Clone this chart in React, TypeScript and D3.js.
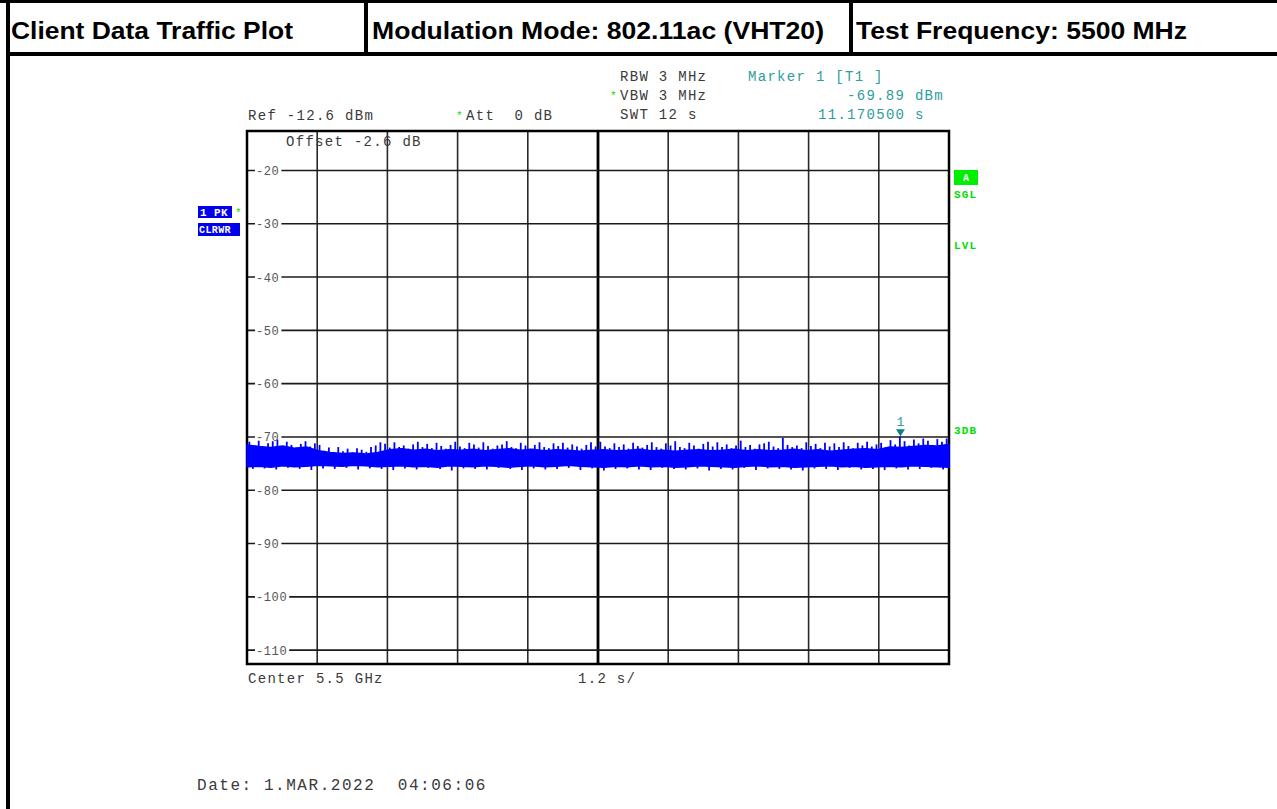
import React from "react";
import * as d3 from "d3";

// header cells
const headerCells = [
  "Client Data Traffic Plot",
  "Modulation Mode: 802.11ac (VHT20)",
  "Test Frequency: 5500 MHz",
];

// level axis (dBm) and sweep (s)
const refLevel = -12.6;
const sweepTime = 12;
const levelTicks = [-20, -30, -40, -50, -60, -70, -80, -90, -100, -110];

// band of the trace, one value every 0.2 s
const bandTop = [
  -71.5, -71.8, -72.0, -71.7, -72.1, -71.9, -72.6, -72.9, -73.1, -73.0,
  -73.2, -72.9, -72.4, -72.2, -72.5, -72.3, -72.6, -72.4, -72.5, -72.3,
  -72.6, -72.4, -72.2, -72.5, -72.3, -72.6, -72.4, -72.5, -72.7, -72.5,
  -72.4, -72.6, -72.5, -72.3, -72.6, -72.5, -72.7, -72.5, -72.4, -72.6,
  -72.5, -72.3, -72.6, -72.4, -72.6, -72.5, -72.3, -72.6, -72.4, -72.7,
  -72.5, -72.3, -72.2, -72.4, -71.9, -72.0, -71.8, -71.6, -71.7, -71.4,
];
const bandBottom = [
  -75.6, -75.5, -75.7, -75.4, -75.6, -75.5, -75.3, -75.4, -75.5, -75.3,
  -75.4, -75.6, -75.5, -75.4, -75.6, -75.5, -75.7, -75.4, -75.5, -75.6,
  -75.4, -75.5, -75.7, -75.5, -75.4, -75.6, -75.5, -75.3, -75.5, -75.6,
  -75.7, -75.5, -75.6, -75.4, -75.6, -75.5, -75.7, -75.6, -75.4, -75.5,
  -75.6, -75.7, -75.5, -75.4, -75.6, -75.5, -75.7, -75.6, -75.5, -75.4,
  -75.6, -75.5, -75.7, -75.6, -75.5, -75.6, -75.4, -75.5, -75.6, -75.7,
];

// peak spikes, one every 0.08 s
const spikeLevels = [
  -70.9, -71.6, -70.7, -71.9, -71.2, -70.8, -70.5, -71.7, -70.9, -71.5,
  -72.0, -71.3, -70.8, -71.8, -71.2,
  -71.5, -72.6, -72.0, -72.8, -71.9, -72.7, -72.2, -72.9, -72.1, -72.4,
  -72.8, -71.9, -71.6, -71.0,
  -71.3, -72.0, -71.0, -71.9, -71.6, -72.2, -71.4, -70.9, -71.9, -71.3,
  -72.1, -71.1, -71.7, -72.2, -71.5, -70.9, -71.8, -72.1, -71.1, -71.4,
  -72.0, -71.0, -71.7, -72.2, -71.6, -71.4, -70.8, -71.9, -72.1, -71.1,
  -71.6, -72.2, -71.5, -71.0, -71.9, -72.1, -71.2, -71.7, -71.1, -72.0,
  -71.4, -71.8, -72.2, -71.5, -71.0, -71.8,
  -70.9, -71.8, -72.1, -71.2, -71.9, -71.4, -72.2, -71.1, -71.7, -72.0,
  -71.5, -71.0, -71.9, -72.2, -71.2, -71.6, -70.8, -71.9, -72.1, -71.1,
  -71.6, -72.2, -71.3, -70.9, -71.8,
  -71.0, -71.9, -71.4, -72.1, -71.6, -70.7, -71.9, -71.5, -72.2, -71.4,
  -71.2, -70.9, -71.8, -72.1, -70.2, -71.5, -71.9, -71.6, -72.1, -71.0,
  -71.7, -71.3, -72.1, -71.1, -71.8,
  -71.2, -71.9, -71.0, -71.7, -72.1, -71.1, -71.6, -70.9, -71.8, -71.4,
  -71.1, -71.9, -70.6, -71.4, -69.9, -70.8, -71.6, -70.5, -71.2, -70.3,
  -70.7, -71.5, -70.4, -70.9, -70.3,
];

// dips under the band, one every 0.2 s
const dipLevels = [
  -76.0, -75.9, -76.1, -75.8, -76.0, -76.2, -75.9, -76.0, -75.8, -76.1,
  -75.9, -76.0, -76.2, -75.9, -76.1, -75.8, -76.0, -76.3, -75.9, -76.0,
  -76.1, -75.8, -76.0, -76.2, -75.9, -76.1, -76.0, -75.8, -76.2, -75.9,
  -76.3, -76.0, -75.9, -76.1, -76.2, -75.8, -76.0, -76.1, -75.9, -76.3,
  -76.0, -76.1, -75.8, -76.2, -75.9, -76.0, -76.1, -76.3, -75.9, -76.0,
  -76.2, -75.8, -76.1, -76.0, -76.2, -75.9, -76.1, -76.0, -75.8, -76.1,
];

const markerTime = 11.1705;
const markerLevel = -69.89;

const mono = "'Liberation Mono', 'Courier New', monospace";
const ink = "#3a3a3a";
const teal = "#2e9c9c";
const green = "#00dd00";

export default function App() {
  const x = d3.scaleLinear().domain([0, sweepTime]).range([247, 949]);
  const y = d3.scaleLinear().domain([refLevel - 100, refLevel]).range([664, 131]);

  const bandStep = sweepTime / (bandTop.length - 1);
  const band = d3
    .area<number>()
    .x((_, i) => x(i * bandStep))
    .y0((_, i) => y(bandBottom[i]))
    .y1((d) => y(d))
    .curve(d3.curveLinear);

  const topAt = (t: number) => {
    const i = Math.min(bandTop.length - 1, Math.round(t / bandStep));
    return bandTop[i];
  };
  const bottomAt = (t: number) => {
    const i = Math.min(bandBottom.length - 1, Math.round(t / bandStep));
    return bandBottom[i];
  };

  const spikeStep = sweepTime / spikeLevels.length;
  const dipStep = sweepTime / dipLevels.length;
  const xTicks = d3.range(0, 11).map((i) => (i * sweepTime) / 10);

  const txt = (s: string, tx: number, ty: number, fill = ink, extra: any = {}) => (
    <text
      x={tx}
      y={ty}
      fill={fill}
      fontFamily={mono}
      fontSize={14}
      letterSpacing={1.3}
      style={{ whiteSpace: "pre" }}
      {...extra}
    >
      {s}
    </text>
  );

  const headerX = [11, 372, 856];
  const headerW = [282, 452, 331];

  return (
    <div style={{ position: "absolute", left: 0, top: 0 }}>
      <svg width={1277} height={809} style={{ display: "block", background: "#fff" }}>
        {/* header table */}
        <line x1={0} x2={1277} y1={1.5} y2={1.5} stroke="#000" strokeWidth={3} />
        <line x1={6} x2={1277} y1={54} y2={54} stroke="#000" strokeWidth={4} />
        <line x1={8} x2={8} y1={0} y2={809} stroke="#000" strokeWidth={4} />
        <line x1={366} x2={366} y1={0} y2={54} stroke="#000" strokeWidth={4} />
        <line x1={851} x2={851} y1={0} y2={54} stroke="#000" strokeWidth={4} />
        {headerCells.map((h, i) => (
          <text
            key={h}
            x={headerX[i]}
            y={39}
            fontFamily="'Liberation Sans', Arial, sans-serif"
            fontWeight="bold"
            fontSize={24}
            textLength={headerW[i]}
            lengthAdjust="spacingAndGlyphs"
            fill="#000"
          >
            {h}
          </text>
        ))}

        {/* grid */}
        {xTicks.map((t, i) => (
          <line
            key={"v" + i}
            x1={x(t)}
            x2={x(t)}
            y1={131}
            y2={664}
            stroke={i === 5 ? "#000" : "#2a2a2a"}
            strokeWidth={i === 5 ? 2.8 : 1.6}
          />
        ))}
        {levelTicks.map((v) => (
          <line key={"h" + v} x1={247} x2={949} y1={y(v)} y2={y(v)} stroke="#1a1a1a" strokeWidth={1.6} />
        ))}
        <rect x={247} y={131} width={702} height={533} fill="none" stroke="#000" strokeWidth={2.5} />

        {/* level labels */}
        {levelTicks.map((v) => {
          const s = String(v);
          const w = s.length * 7.8 + 3;
          return (
            <g key={"l" + v}>
              <rect x={255} y={y(v) - 6} width={w} height={12} fill="#fff" />
              <text
                x={256}
                y={y(v) + 4.5}
                fill="#555"
                fontFamily={mono}
                fontSize={12}
                letterSpacing={0.6}
              >
                {s}
              </text>
            </g>
          );
        })}

        {/* trace */}
        <path d={band(bandTop) || ""} fill="#0000ff" stroke="#0000ff" strokeWidth={1.5} />
        {spikeLevels.map((v, i) => {
          const t = (i + 0.5) * spikeStep;
          return (
            <line
              key={"s" + i}
              x1={x(t)}
              x2={x(t)}
              y1={y(topAt(t)) + 1}
              y2={y(v)}
              stroke="#0000ff"
              strokeWidth={1.8}
            />
          );
        })}
        {dipLevels.map((v, i) => {
          const t = (i + 0.5) * dipStep;
          return (
            <line
              key={"d" + i}
              x1={x(t)}
              x2={x(t)}
              y1={y(bottomAt(t)) - 1}
              y2={y(v)}
              stroke="#0000ff"
              strokeWidth={1.8}
            />
          );
        })}

        {/* marker */}
        <path
          d={`M${x(markerTime) - 4.5},${y(markerLevel) - 7} L${x(markerTime) + 4.5},${y(markerLevel) - 7} L${x(markerTime)},${y(markerLevel)} Z`}
          fill="#0a7f7f"
        />
        {txt("1", x(markerTime) - 4, y(markerLevel) - 10, teal, { fontSize: 13, letterSpacing: 0 })}

        {/* top annotations */}
        {txt("RBW 3 MHz", 620, 81)}
        {txt("VBW 3 MHz", 620, 100)}
        {txt("SWT 12 s", 620, 119)}
        {txt("*", 610, 99, green, { fontSize: 11, letterSpacing: 0 })}
        {txt("Ref -12.6 dBm", 248, 120)}
        {txt("Att  0 dB", 466, 120)}
        {txt("*", 456, 119, green, { fontSize: 11, letterSpacing: 0 })}
        {txt("Marker 1 [T1 ]", 748, 81, teal)}
        {txt("-69.89 dBm", 847, 100, teal)}
        {txt("11.170500 s", 818, 119, teal)}
        {txt("Offset -2.6 dB", 286, 146)}

        {/* bottom annotations */}
        {txt("Center 5.5 GHz", 248, 683)}
        {txt("1.2 s/", 578, 683)}
        {txt("Date: 1.MAR.2022  04:06:06", 197, 790, ink, { fontSize: 16, letterSpacing: 1.55 })}

        {/* left trace info */}
        <rect x={198} y={206} width={34} height={12} fill="#0000ee" />
        <text x={200} y={216} fill="#fff" fontFamily={mono} fontSize={11} fontWeight="bold" letterSpacing={0.4} style={{ whiteSpace: "pre" }}>
          1 PK
        </text>
        {txt("*", 235, 216, green, { fontSize: 11, letterSpacing: 0 })}
        <rect x={198} y={223} width={42} height={13} fill="#0000ee" />
        <text x={199} y={233} fill="#fff" fontFamily={mono} fontSize={10} fontWeight="bold" letterSpacing={0.4}>
          CLRWR
        </text>

        {/* right status */}
        <rect x={954} y={170} width={24} height={15} fill="#00ee00" />
        <text x={966} y={181} textAnchor="middle" fill="#fff" fontFamily={mono} fontSize={10} fontWeight="bold">
          A
        </text>
        {["SGL", "LVL", "3DB"].map((s, i) => (
          <text
            key={s}
            x={954}
            y={[198, 249, 434][i]}
            fill={green}
            fontFamily={mono}
            fontSize={11}
            fontWeight="bold"
            letterSpacing={1.2}
          >
            {s}
          </text>
        ))}
      </svg>
    </div>
  );
}
